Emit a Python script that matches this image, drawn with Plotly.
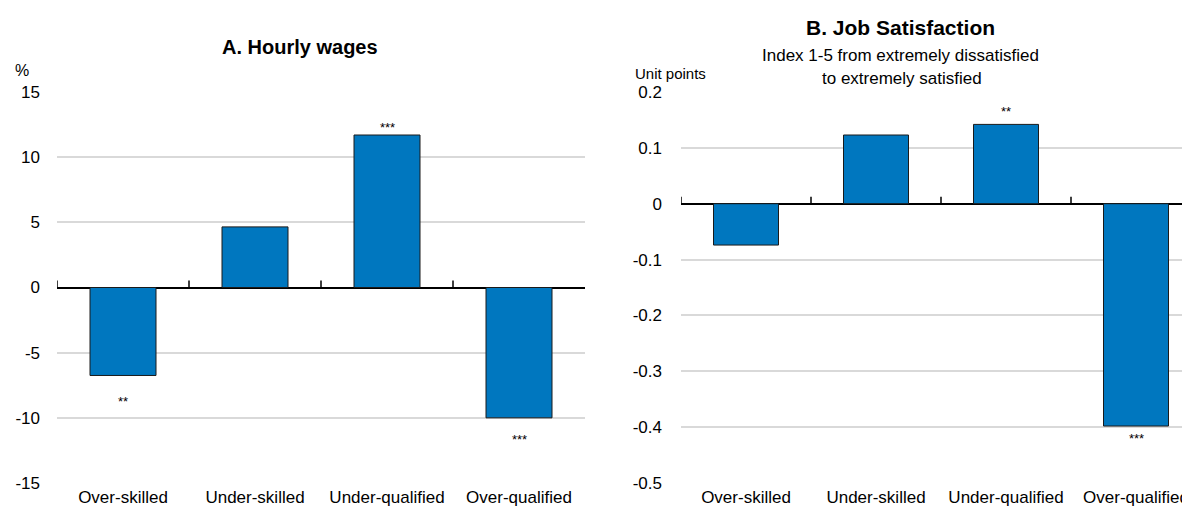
import plotly.graph_objects as go

categories = ["Over-skilled", "Under-skilled", "Under-qualified", "Over-qualified"]
wages = [-6.75, 4.65, 11.7, -10.0]
wages_sig = ["**", "", "***", "***"]
wages_sig_pos = [-8.6, None, 12.4, -11.5]
satisfaction = [-0.074, 0.123, 0.142, -0.398]
satisfaction_sig = ["", "", "**", "***"]
satisfaction_sig_pos = [None, None, 0.168, -0.417]
wage_ticks = [-15, -10, -5, 0, 5, 10, 15]
wage_tick_text = ["-15", "-10", "-5", "0", "5", "10", "15"]
sat_ticks = [-0.5, -0.4, -0.3, -0.2, -0.1, 0, 0.1, 0.2]
sat_tick_text = ["-0.5", "-0.4", "-0.3", "-0.2", "-0.1", "0", "0.1", "0.2"]

# the page body has an 8px margin: work in window pixels and convert
OX, OY = 8, 8
W, H = 1190 - OX, 509 - OY
FONT = "Liberation Sans Narrow, Arial Narrow, Liberation Sans, Arial, sans-serif"
BAR = "#0077BF"
GRID = "#d9d9d9"
FS = 17


def px(x):
    return (x - OX) / W


def py(y):
    return 1 - (y - OY) / H


fig = go.Figure()
fig.add_trace(go.Bar(x=categories, y=wages, xaxis="x", yaxis="y",
                     marker=dict(color=BAR, line=dict(color="#1a1a1a", width=1)),
                     width=0.5, showlegend=False))
fig.add_trace(go.Bar(x=categories, y=satisfaction, xaxis="x2", yaxis="y2",
                     marker=dict(color=BAR, line=dict(color="#1a1a1a", width=1)),
                     width=0.5, showlegend=False))

ydom = [py(483), py(92)]
xcommon = dict(showgrid=False, showline=False, ticks="", tickfont=dict(size=FS, color="black"),
               type="category", fixedrange=True, automargin=False, ticklabelstandoff=2)
ycommon = dict(showgrid=True, gridcolor=GRID, gridwidth=1.5,
               zeroline=True, zerolinecolor="black", zerolinewidth=1.5,
               tickfont=dict(size=FS, color="black"), ticks="", fixedrange=True, automargin=False)
fig.update_layout(
    width=W, height=H,
    margin=dict(l=0, r=0, t=0, b=0, autoexpand=False),
    paper_bgcolor="white", plot_bgcolor="white",
    font=dict(family=FONT, color="black"),
    xaxis=dict(domain=[px(57), px(585)], anchor="y", range=[-0.5, 3.5], **xcommon),
    xaxis2=dict(domain=[px(681), 1.0], anchor="y2", range=[-0.5, 3.5 - 11 / 130], **xcommon),
    yaxis=dict(domain=ydom, anchor="x", range=[-15, 15], tickvals=wage_ticks, ticktext=wage_tick_text,
               ticklabelstandoff=16, **ycommon),
    yaxis2=dict(domain=ydom, anchor="x2", range=[-0.5, 0.2], tickvals=sat_ticks, ticktext=sat_tick_text,
                ticklabelstandoff=18, **ycommon),
    bargap=0.5,
)

# upward ticks on the zero line at category boundaries
shapes = []
for xr, yr in [("x", "y"), ("x2", "y2")]:
    for i in range(4):
        b = i - 0.5
        shapes.append(dict(type="line", xref=xr, yref=yr, x0=b, x1=b, y0=0, y1=7,
                           ysizemode="pixel", yanchor=0, line=dict(color="black", width=1.5)))
fig.update_layout(shapes=shapes)

ann = []
for xr, yr, sig, pos in [("x", "y", wages_sig, wages_sig_pos),
                         ("x2", "y2", satisfaction_sig, satisfaction_sig_pos)]:
    for c, s, p in zip(categories, sig, pos):
        if not s:
            continue
        ann.append(dict(xref=xr, yref=yr, x=c, y=p, text=s, showarrow=False,
                        font=dict(size=13, color="black"), yanchor="middle", yshift=-2))

ann += [
    dict(xref="paper", yref="paper", x=px(300), y=py(47), text="<b>A. Hourly wages</b>",
         showarrow=False, font=dict(size=20), xanchor="center", yanchor="middle"),
    dict(xref="paper", yref="paper", x=px(22), y=py(71), text="%",
         showarrow=False, font=dict(size=16), xanchor="center", yanchor="middle"),
    dict(xref="paper", yref="paper", x=px(901), y=py(28), text="<b>B. Job Satisfaction</b>",
         showarrow=False, font=dict(size=21), xanchor="center", yanchor="middle"),
    dict(xref="paper", yref="paper", x=px(901), y=py(55), text="Index 1-5 from extremely dissatisfied",
         showarrow=False, font=dict(size=17), xanchor="center", yanchor="middle"),
    dict(xref="paper", yref="paper", x=px(902), y=py(79), text="to extremely satisfied",
         showarrow=False, font=dict(size=17), xanchor="center", yanchor="middle"),
    dict(xref="paper", yref="paper", x=px(670), y=py(73), text="Unit points",
         showarrow=False, font=dict(size=15), xanchor="center", yanchor="middle"),
]
fig.update_layout(annotations=ann)

fig.write_html("out.html")
